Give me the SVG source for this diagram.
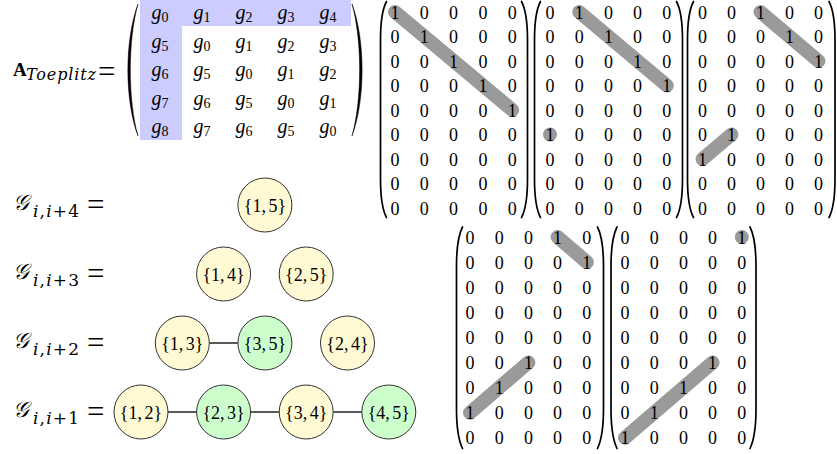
<svg xmlns="http://www.w3.org/2000/svg" width="837" height="454" viewBox="0 0 837 454">
<style>
.paren{fill:#000;stroke:#000;stroke-width:0.5;stroke-linejoin:round}
.bp{fill:none;stroke:#000;stroke-width:1.7;stroke-linecap:round}
.d{font-family:"Liberation Serif",serif;font-size:18px;fill:#000;text-anchor:middle}
.g{font-family:"Liberation Serif",serif;font-size:20px;font-style:italic;fill:#000;text-anchor:middle}
.g tspan{font-style:normal;font-size:14px}
.band{stroke:#9a9a9a;stroke-width:14;stroke-linecap:round;fill:none}
.dot{fill:#9a9a9a}
.hl{fill:#ccccff}
.node circle{stroke:#333;stroke-width:1}
.y circle{fill:#fffad4}
.gr circle{fill:#ccffcc}
.node text{font-family:"Liberation Serif",serif;font-size:18px;text-anchor:middle;fill:#000}
.edge{stroke:#000;stroke-width:1.3}
.eq{font-family:"Liberation Serif",serif;font-size:31px;fill:#000}
.cal{font-family:"DejaVu Serif","Noto Sans","Liberation Serif",serif;font-size:22px;font-style:italic;fill:#000}
.sub{font-family:"DejaVu Serif",serif;font-size:17px;fill:#000}
</style>

<!-- Toeplitz matrix -->
<g id="toeplitz">
<rect class="hl" x="140" y="0" width="211" height="26"/>
<rect class="hl" x="140" y="0" width="42" height="140"/>
<text x="13" y="76" style="font-family:'Liberation Serif',serif;font-size:19px;font-weight:bold">A</text>
<text x="26" y="80" textLength="70" lengthAdjust="spacing" style="font-family:'DejaVu Serif',serif;font-size:16px;font-style:italic">Toeplitz</text>
<text class="eq" x="98" y="82">=</text>
<path class="paren" d="M138,4 C124.5,40 124.5,100 138,136 C127.8,100 127.8,40 138,4 Z"/>
<path class="paren" d="M352,4 C365.5,40 365.5,100 352,136 C362.2,100 362.2,40 352,4 Z"/>
<text class="g" x="160" y="19">g<tspan dy="3">0</tspan></text>
<text class="g" x="202" y="19">g<tspan dy="3">1</tspan></text>
<text class="g" x="244" y="19">g<tspan dy="3">2</tspan></text>
<text class="g" x="286" y="19">g<tspan dy="3">3</tspan></text>
<text class="g" x="328" y="19">g<tspan dy="3">4</tspan></text>
<text class="g" x="160" y="47.5">g<tspan dy="3">5</tspan></text>
<text class="g" x="202" y="47.5">g<tspan dy="3">0</tspan></text>
<text class="g" x="244" y="47.5">g<tspan dy="3">1</tspan></text>
<text class="g" x="286" y="47.5">g<tspan dy="3">2</tspan></text>
<text class="g" x="328" y="47.5">g<tspan dy="3">3</tspan></text>
<text class="g" x="160" y="76">g<tspan dy="3">6</tspan></text>
<text class="g" x="202" y="76">g<tspan dy="3">5</tspan></text>
<text class="g" x="244" y="76">g<tspan dy="3">0</tspan></text>
<text class="g" x="286" y="76">g<tspan dy="3">1</tspan></text>
<text class="g" x="328" y="76">g<tspan dy="3">2</tspan></text>
<text class="g" x="160" y="104.5">g<tspan dy="3">7</tspan></text>
<text class="g" x="202" y="104.5">g<tspan dy="3">6</tspan></text>
<text class="g" x="244" y="104.5">g<tspan dy="3">5</tspan></text>
<text class="g" x="286" y="104.5">g<tspan dy="3">0</tspan></text>
<text class="g" x="328" y="104.5">g<tspan dy="3">1</tspan></text>
<text class="g" x="160" y="133">g<tspan dy="3">8</tspan></text>
<text class="g" x="202" y="133">g<tspan dy="3">7</tspan></text>
<text class="g" x="244" y="133">g<tspan dy="3">6</tspan></text>
<text class="g" x="286" y="133">g<tspan dy="3">5</tspan></text>
<text class="g" x="328" y="133">g<tspan dy="3">0</tspan></text>
</g>

<!-- Matrix 1 -->
<g id="m1">
<line class="band" x1="395" y1="12" x2="512.2" y2="110"/>
<path class="bp" d="M386.5,1.5 C382,10 380.5,25 380.5,40 L380.5,179 C380.5,194 382,209 386.5,217.5"/>
<path class="bp" d="M521.5,1.5 C526,10 527.5,25 527.5,40 L527.5,179 C527.5,194 526,209 521.5,217.5"/>
<text class="d" x="395 424.3 453.6 482.9 512.2" y="18.5">10000</text>
<text class="d" x="395 424.3 453.6 482.9 512.2" y="43">01000</text>
<text class="d" x="395 424.3 453.6 482.9 512.2" y="67.5">00100</text>
<text class="d" x="395 424.3 453.6 482.9 512.2" y="92">00010</text>
<text class="d" x="395 424.3 453.6 482.9 512.2" y="116.5">00001</text>
<text class="d" x="395 424.3 453.6 482.9 512.2" y="141">00000</text>
<text class="d" x="395 424.3 453.6 482.9 512.2" y="165.5">00000</text>
<text class="d" x="395 424.3 453.6 482.9 512.2" y="190">00000</text>
<text class="d" x="395 424.3 453.6 482.9 512.2" y="214.5">00000</text>
</g>

<!-- Matrix 2 -->
<g id="m2">
<line class="band" x1="579.2" y1="12" x2="666.8" y2="85.5"/>
<circle class="dot" cx="550" cy="134.5" r="7"/>
<path class="bp" d="M540.5,1.5 C536,10 534.5,25 534.5,40 L534.5,179 C534.5,194 536,209 540.5,217.5"/>
<path class="bp" d="M676.5,1.5 C681,10 682.5,25 682.5,40 L682.5,179 C682.5,194 681,209 676.5,217.5"/>
<text class="d" x="550 579.2 608.4 637.6 666.8" y="18.5">01000</text>
<text class="d" x="550 579.2 608.4 637.6 666.8" y="43">00100</text>
<text class="d" x="550 579.2 608.4 637.6 666.8" y="67.5">00010</text>
<text class="d" x="550 579.2 608.4 637.6 666.8" y="92">00001</text>
<text class="d" x="550 579.2 608.4 637.6 666.8" y="116.5">00000</text>
<text class="d" x="550 579.2 608.4 637.6 666.8" y="141">10000</text>
<text class="d" x="550 579.2 608.4 637.6 666.8" y="165.5">00000</text>
<text class="d" x="550 579.2 608.4 637.6 666.8" y="190">00000</text>
<text class="d" x="550 579.2 608.4 637.6 666.8" y="214.5">00000</text>
</g>

<!-- Matrix 3 -->
<g id="m3">
<line class="band" x1="760.5" y1="12" x2="818.5" y2="61"/>
<line class="band" x1="731.5" y1="134.5" x2="702.5" y2="159"/>
<path class="bp" d="M693.5,1.5 C689,10 687.5,25 687.5,40 L687.5,179 C687.5,194 689,209 693.5,217.5"/>
<path class="bp" d="M829,1.5 C833.5,10 835,25 835,40 L835,179 C835,194 833.5,209 829,217.5"/>
<text class="d" x="702.5 731.5 760.5 789.5 818.5" y="18.5">00100</text>
<text class="d" x="702.5 731.5 760.5 789.5 818.5" y="43">00010</text>
<text class="d" x="702.5 731.5 760.5 789.5 818.5" y="67.5">00001</text>
<text class="d" x="702.5 731.5 760.5 789.5 818.5" y="92">00000</text>
<text class="d" x="702.5 731.5 760.5 789.5 818.5" y="116.5">00000</text>
<text class="d" x="702.5 731.5 760.5 789.5 818.5" y="141">01000</text>
<text class="d" x="702.5 731.5 760.5 789.5 818.5" y="165.5">10000</text>
<text class="d" x="702.5 731.5 760.5 789.5 818.5" y="190">00000</text>
<text class="d" x="702.5 731.5 760.5 789.5 818.5" y="214.5">00000</text>
</g>

<!-- Matrix 4 -->
<g id="m4">
<line class="band" x1="557.6" y1="237" x2="586.8" y2="262.1"/>
<line class="band" x1="528.4" y1="362.5" x2="470" y2="412.7"/>
<path class="bp" d="M462.5,227 C458,236 456.5,251 456.5,266 L456.5,409 C456.5,424 458,439 462.5,448.5"/>
<path class="bp" d="M597.5,227 C602,236 603.5,251 603.5,266 L603.5,409 C603.5,424 602,439 597.5,448.5"/>
<text class="d" x="470 499.2 528.4 557.6 586.8" y="243.5">00010</text>
<text class="d" x="470 499.2 528.4 557.6 586.8" y="268.6">00001</text>
<text class="d" x="470 499.2 528.4 557.6 586.8" y="293.7">00000</text>
<text class="d" x="470 499.2 528.4 557.6 586.8" y="318.8">00000</text>
<text class="d" x="470 499.2 528.4 557.6 586.8" y="343.9">00000</text>
<text class="d" x="470 499.2 528.4 557.6 586.8" y="369">00100</text>
<text class="d" x="470 499.2 528.4 557.6 586.8" y="394.1">01000</text>
<text class="d" x="470 499.2 528.4 557.6 586.8" y="419.2">10000</text>
<text class="d" x="470 499.2 528.4 557.6 586.8" y="444.3">00000</text>
</g>

<!-- Matrix 5 -->
<g id="m5">
<circle class="dot" cx="741.8" cy="237" r="7"/>
<line class="band" x1="712.6" y1="362.5" x2="625" y2="437.8"/>
<path class="bp" d="M617,227 C612.5,236 611,251 611,266 L611,409 C611,424 612.5,439 617,448.5"/>
<path class="bp" d="M750,227 C754.5,236 756,251 756,266 L756,409 C756,424 754.5,439 750,448.5"/>
<text class="d" x="625 654.2 683.4 712.6 741.8" y="243.5">00001</text>
<text class="d" x="625 654.2 683.4 712.6 741.8" y="268.6">00000</text>
<text class="d" x="625 654.2 683.4 712.6 741.8" y="293.7">00000</text>
<text class="d" x="625 654.2 683.4 712.6 741.8" y="318.8">00000</text>
<text class="d" x="625 654.2 683.4 712.6 741.8" y="343.9">00000</text>
<text class="d" x="625 654.2 683.4 712.6 741.8" y="369">00010</text>
<text class="d" x="625 654.2 683.4 712.6 741.8" y="394.1">00100</text>
<text class="d" x="625 654.2 683.4 712.6 741.8" y="419.2">01000</text>
<text class="d" x="625 654.2 683.4 712.6 741.8" y="444.3">10000</text>
</g>

<!-- Graph labels -->
<g id="labels">
<text class="cal" x="13" y="210">𝒢</text><text class="sub" x="33" y="217" textLength="46" lengthAdjust="spacing"><tspan font-style="italic">i</tspan>,<tspan font-style="italic">i</tspan>+4</text><text class="eq" x="87" y="215">=</text>
<text class="cal" x="13" y="279">𝒢</text><text class="sub" x="33" y="286" textLength="46" lengthAdjust="spacing"><tspan font-style="italic">i</tspan>,<tspan font-style="italic">i</tspan>+3</text><text class="eq" x="87" y="284">=</text>
<text class="cal" x="13" y="348">𝒢</text><text class="sub" x="33" y="355" textLength="46" lengthAdjust="spacing"><tspan font-style="italic">i</tspan>,<tspan font-style="italic">i</tspan>+2</text><text class="eq" x="87" y="353">=</text>
<text class="cal" x="13" y="417">𝒢</text><text class="sub" x="33" y="424" textLength="46" lengthAdjust="spacing"><tspan font-style="italic">i</tspan>,<tspan font-style="italic">i</tspan>+1</text><text class="eq" x="87" y="422">=</text>
</g>

<!-- Connectors -->
<g id="connectors">
<line class="edge" x1="209.3" y1="343" x2="237.9" y2="343"/>
<line class="edge" x1="168" y1="412" x2="196.6" y2="412"/>
<line class="edge" x1="250.6" y1="412" x2="279.2" y2="412"/>
<line class="edge" x1="333.2" y1="412" x2="361.8" y2="412"/>
</g>

<!-- Nodes -->
<g id="n15" class="node y"><circle cx="264.9" cy="205" r="27"/><text x="264.9" y="211.5">{1,<tspan dx="2.5">5</tspan>}</text></g>
<g id="n14" class="node y"><circle cx="223.6" cy="274" r="27"/><text x="223.6" y="280.5">{1,<tspan dx="2.5">4</tspan>}</text></g>
<g id="n25" class="node y"><circle cx="306.2" cy="274" r="27"/><text x="306.2" y="280.5">{2,<tspan dx="2.5">5</tspan>}</text></g>
<g id="n13" class="node y"><circle cx="182.3" cy="343" r="27"/><text x="182.3" y="349.5">{1,<tspan dx="2.5">3</tspan>}</text></g>
<g id="n35" class="node gr"><circle cx="264.9" cy="343" r="27"/><text x="264.9" y="349.5">{3,<tspan dx="2.5">5</tspan>}</text></g>
<g id="n24" class="node y"><circle cx="347.5" cy="343" r="27"/><text x="347.5" y="349.5">{2,<tspan dx="2.5">4</tspan>}</text></g>
<g id="n12" class="node y"><circle cx="141" cy="412" r="27"/><text x="141" y="418.5">{1,<tspan dx="2.5">2</tspan>}</text></g>
<g id="n23" class="node gr"><circle cx="223.6" cy="412" r="27"/><text x="223.6" y="418.5">{2,<tspan dx="2.5">3</tspan>}</text></g>
<g id="n34" class="node y"><circle cx="306.2" cy="412" r="27"/><text x="306.2" y="418.5">{3,<tspan dx="2.5">4</tspan>}</text></g>
<g id="n45" class="node gr"><circle cx="388.8" cy="412" r="27"/><text x="388.8" y="418.5">{4,<tspan dx="2.5">5</tspan>}</text></g>
</svg>
